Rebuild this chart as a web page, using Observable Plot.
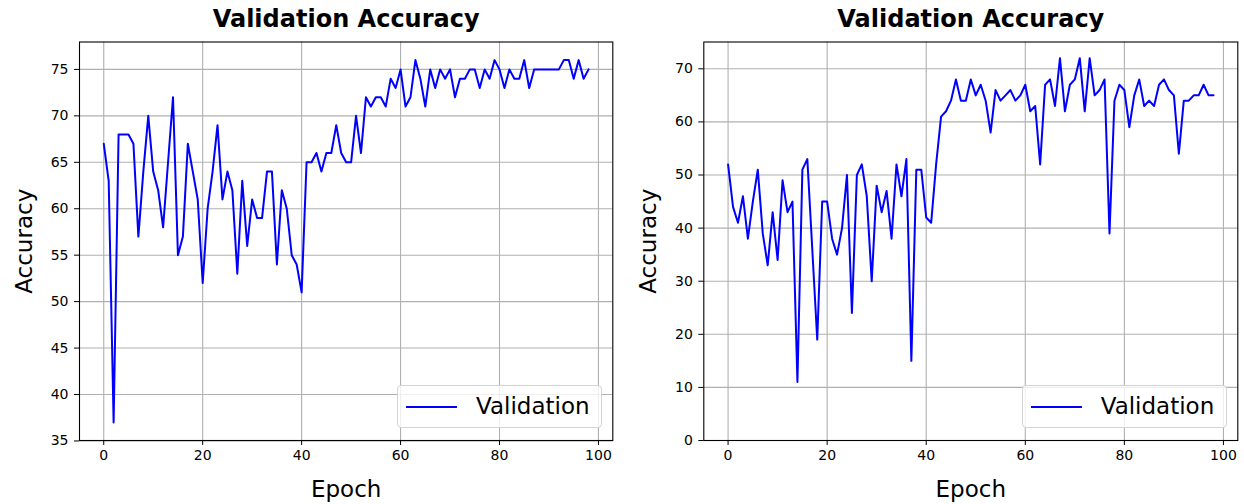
<!DOCTYPE html>
<html>
<head>
<meta charset="utf-8">
<script src="https://cdn.jsdelivr.net/npm/d3@7"></script>
<script src="https://cdn.jsdelivr.net/npm/@observablehq/plot@0.6"></script>
<style>
  html, body { margin: 0; padding: 0; background: #fff; }
  body { font-family: "DejaVu Sans", sans-serif; }
  #wrap { display: flex; width: 1244px; height: 504px; }
  .panel { position: relative; width: 622px; height: 504px; }
  .panel svg { display: block; }
  .legend {
    position: absolute; box-sizing: border-box; top: 385px; width: 205px; height: 43px;
    border: 1px solid #d4d4d4; border-radius: 4px; background: rgba(255,255,255,0.8);
    font-family: "DejaVu Sans", sans-serif; font-size: 23px; color: #000;
  }
  .legend .sample { position: absolute; left: 8px; top: 19.5px; width: 51px; height: 2px; background: #0000ff; }
  .legend .lab { position: absolute; left: 78px; top: 6px; line-height: 28px; white-space: nowrap; }
</style>
</head>
<body>
<div id="wrap"></div>
<script>
// ---- data ----
const title = "Validation Accuracy";
const xLabel = "Epoch";
const yLabel = "Accuracy";
const seriesName = "Validation";

const xTicks = [0, 20, 40, 60, 80, 100];
const leftYTicks = [35, 40, 45, 50, 55, 60, 65, 70, 75];
const rightYTicks = [0, 10, 20, 30, 40, 50, 60, 70];

// Left panel: validation accuracy per epoch (0..98)
const leftValues = [
  67, 63, 37, 68, 68, 68, 67, 57, 64, 70,
  64, 62, 58, 65, 72, 55, 57, 67, 64, 61,
  52, 60, 64, 69, 61, 64, 62, 53, 63, 56,
  61, 59, 59, 64, 64, 54, 62, 60, 55, 54,
  51, 65, 65, 66, 64, 66, 66, 69, 66, 65,
  65, 70, 66, 72, 71, 72, 72, 71, 74, 73,
  75, 71, 72, 76, 74, 71, 75, 73, 75, 74,
  75, 72, 74, 74, 75, 75, 73, 75, 74, 76,
  75, 73, 75, 74, 74, 76, 73, 75, 75, 75,
  75, 75, 75, 76, 76, 74, 76, 74, 75
];

// Right panel: validation accuracy per epoch (0..98)
const rightValues = [
  52, 44, 41, 46, 38, 45, 51, 39, 33, 43,
  34, 49, 43, 45, 11, 51, 53, 36, 19, 45,
  45, 38, 35, 40, 50, 24, 50, 52, 46, 30,
  48, 43, 47, 38, 52, 46, 53, 15, 51, 51,
  42, 41, 52, 61, 62, 64, 68, 64, 64, 68,
  65, 67, 64, 58, 66, 64, 65, 66, 64, 65,
  67, 62, 63, 52, 67, 68, 63, 72, 62, 67,
  68, 72, 62, 72, 65, 66, 68, 39, 64, 67,
  66, 59, 65, 68, 63, 64, 63, 67, 68, 66,
  65, 54, 64, 64, 65, 65, 67, 65, 65
];

function panel(values, yDomain, yTicks, marginLeft, marginRight) {
  const grid = {stroke: "#b0b0b0", strokeOpacity: 1, strokeWidth: 1.1};
  return Plot.plot({
    width: 622,
    height: 504,
    marginLeft,
    marginRight,
    marginTop: 41.5,
    marginBottom: 64,
    style: {fontFamily: "DejaVu Sans, sans-serif", fontSize: "14px", color: "#000", background: "#fff"},
    x: {domain: [-4.9, 102.9]},
    y: {domain: yDomain},
    marks: [
      Plot.gridX(xTicks, grid),
      Plot.gridY(yTicks, grid),
      Plot.line(values, {x: (d, i) => i, y: (d) => d, stroke: "#0000ff", strokeWidth: 2}),
      Plot.frame({stroke: "#000", strokeWidth: 1.1}),
      Plot.axisX(xTicks, {tickSize: 5, tickPadding: 5, fontSize: 14, label: null}),
      Plot.axisY(yTicks, {tickSize: 5, tickPadding: 6, fontSize: 14, label: null}),
      Plot.text([title], {text: (d) => d, frameAnchor: "top", textAnchor: "middle", lineAnchor: "middle", dy: -23, fontSize: 24, fontWeight: "bold", fill: "#000"}),
      Plot.text([xLabel], {text: (d) => d, frameAnchor: "bottom", textAnchor: "middle", lineAnchor: "middle", dy: 49, fontSize: 23, fill: "#000"}),
      Plot.text([yLabel], {text: (d) => d, frameAnchor: "left", textAnchor: "middle", lineAnchor: "middle", dx: -55, rotate: -90, fontSize: 23, fill: "#000"})
    ]
  });
}

function legend(leftPx) {
  const d = document.createElement("div");
  d.className = "legend";
  d.style.left = leftPx + "px";
  const s = document.createElement("div"); s.className = "sample";
  const l = document.createElement("div"); l.className = "lab"; l.textContent = seriesName;
  d.appendChild(s); d.appendChild(l);
  return d;
}

const wrap = document.getElementById("wrap");

const p1 = document.createElement("div"); p1.className = "panel";
p1.appendChild(panel(leftValues, [35.05, 77.95], leftYTicks, 79, 9.7));
p1.appendChild(legend(397));
wrap.appendChild(p1);

const p2 = document.createElement("div"); p2.className = "panel";
p2.appendChild(panel(rightValues, [0, 75.05], rightYTicks, 81.3, 6.7));
p2.appendChild(legend(1021.7 - 622));
wrap.appendChild(p2);
</script>
</body>
</html>
